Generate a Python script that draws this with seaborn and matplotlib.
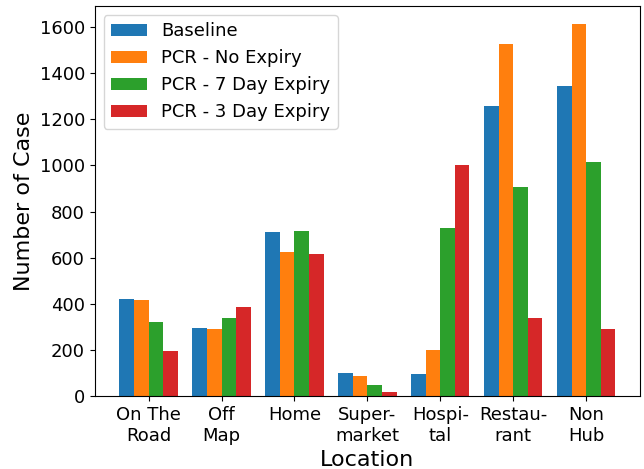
import matplotlib
matplotlib.use("Agg")
import matplotlib.pyplot as plt
import seaborn as sns
import pandas as pd

locations = ["On The\nRoad", "Off\nMap", "Home", "Super-\nmarket", "Hospi-\ntal", "Restau-\nrant", "Non\nHub"]
series = ["Baseline", "PCR - No Expiry", "PCR - 7 Day Expiry", "PCR - 3 Day Expiry"]
baseline = [422, 297, 712, 103, 98, 1257, 1344]
pcr_no_expiry = [418, 292, 625, 90, 200, 1528, 1611]
pcr_7_day = [322, 340, 716, 48, 730, 906, 1015]
pcr_3_day = [196, 385, 616, 18, 1001, 340, 292]
colors = ["#1f77b4", "#ff7f0e", "#2ca02c", "#d62728"]

rows = []
for name, vals in zip(series, [baseline, pcr_no_expiry, pcr_7_day, pcr_3_day]):
    for loc, v in zip(locations, vals):
        rows.append({"Location": loc, "Cases": v, "Scenario": name})
df = pd.DataFrame(rows)

fig, ax = plt.subplots(figsize=(6.44, 4.69), dpi=100)
sns.barplot(data=df, x="Location", y="Cases", hue="Scenario", order=locations,
            hue_order=series, palette=colors, saturation=1, width=0.8,
            linewidth=0, errorbar=None, ax=ax)

ax.set_xlim(-0.74, 6.74)
ax.set_ylim(0, 1690)
ax.set_xlabel("Location", fontsize=16)
ax.set_ylabel("Number of Case", fontsize=16)
ax.tick_params(axis="both", labelsize=13)
for s in ax.spines.values():
    s.set_visible(True)
    s.set_color("black")
    s.set_linewidth(0.8)
ax.legend(loc="upper left", fontsize=13)

fig.subplots_adjust(left=0.147, right=0.994, top=0.987, bottom=0.155)
fig.savefig("out.png", dpi=100)
